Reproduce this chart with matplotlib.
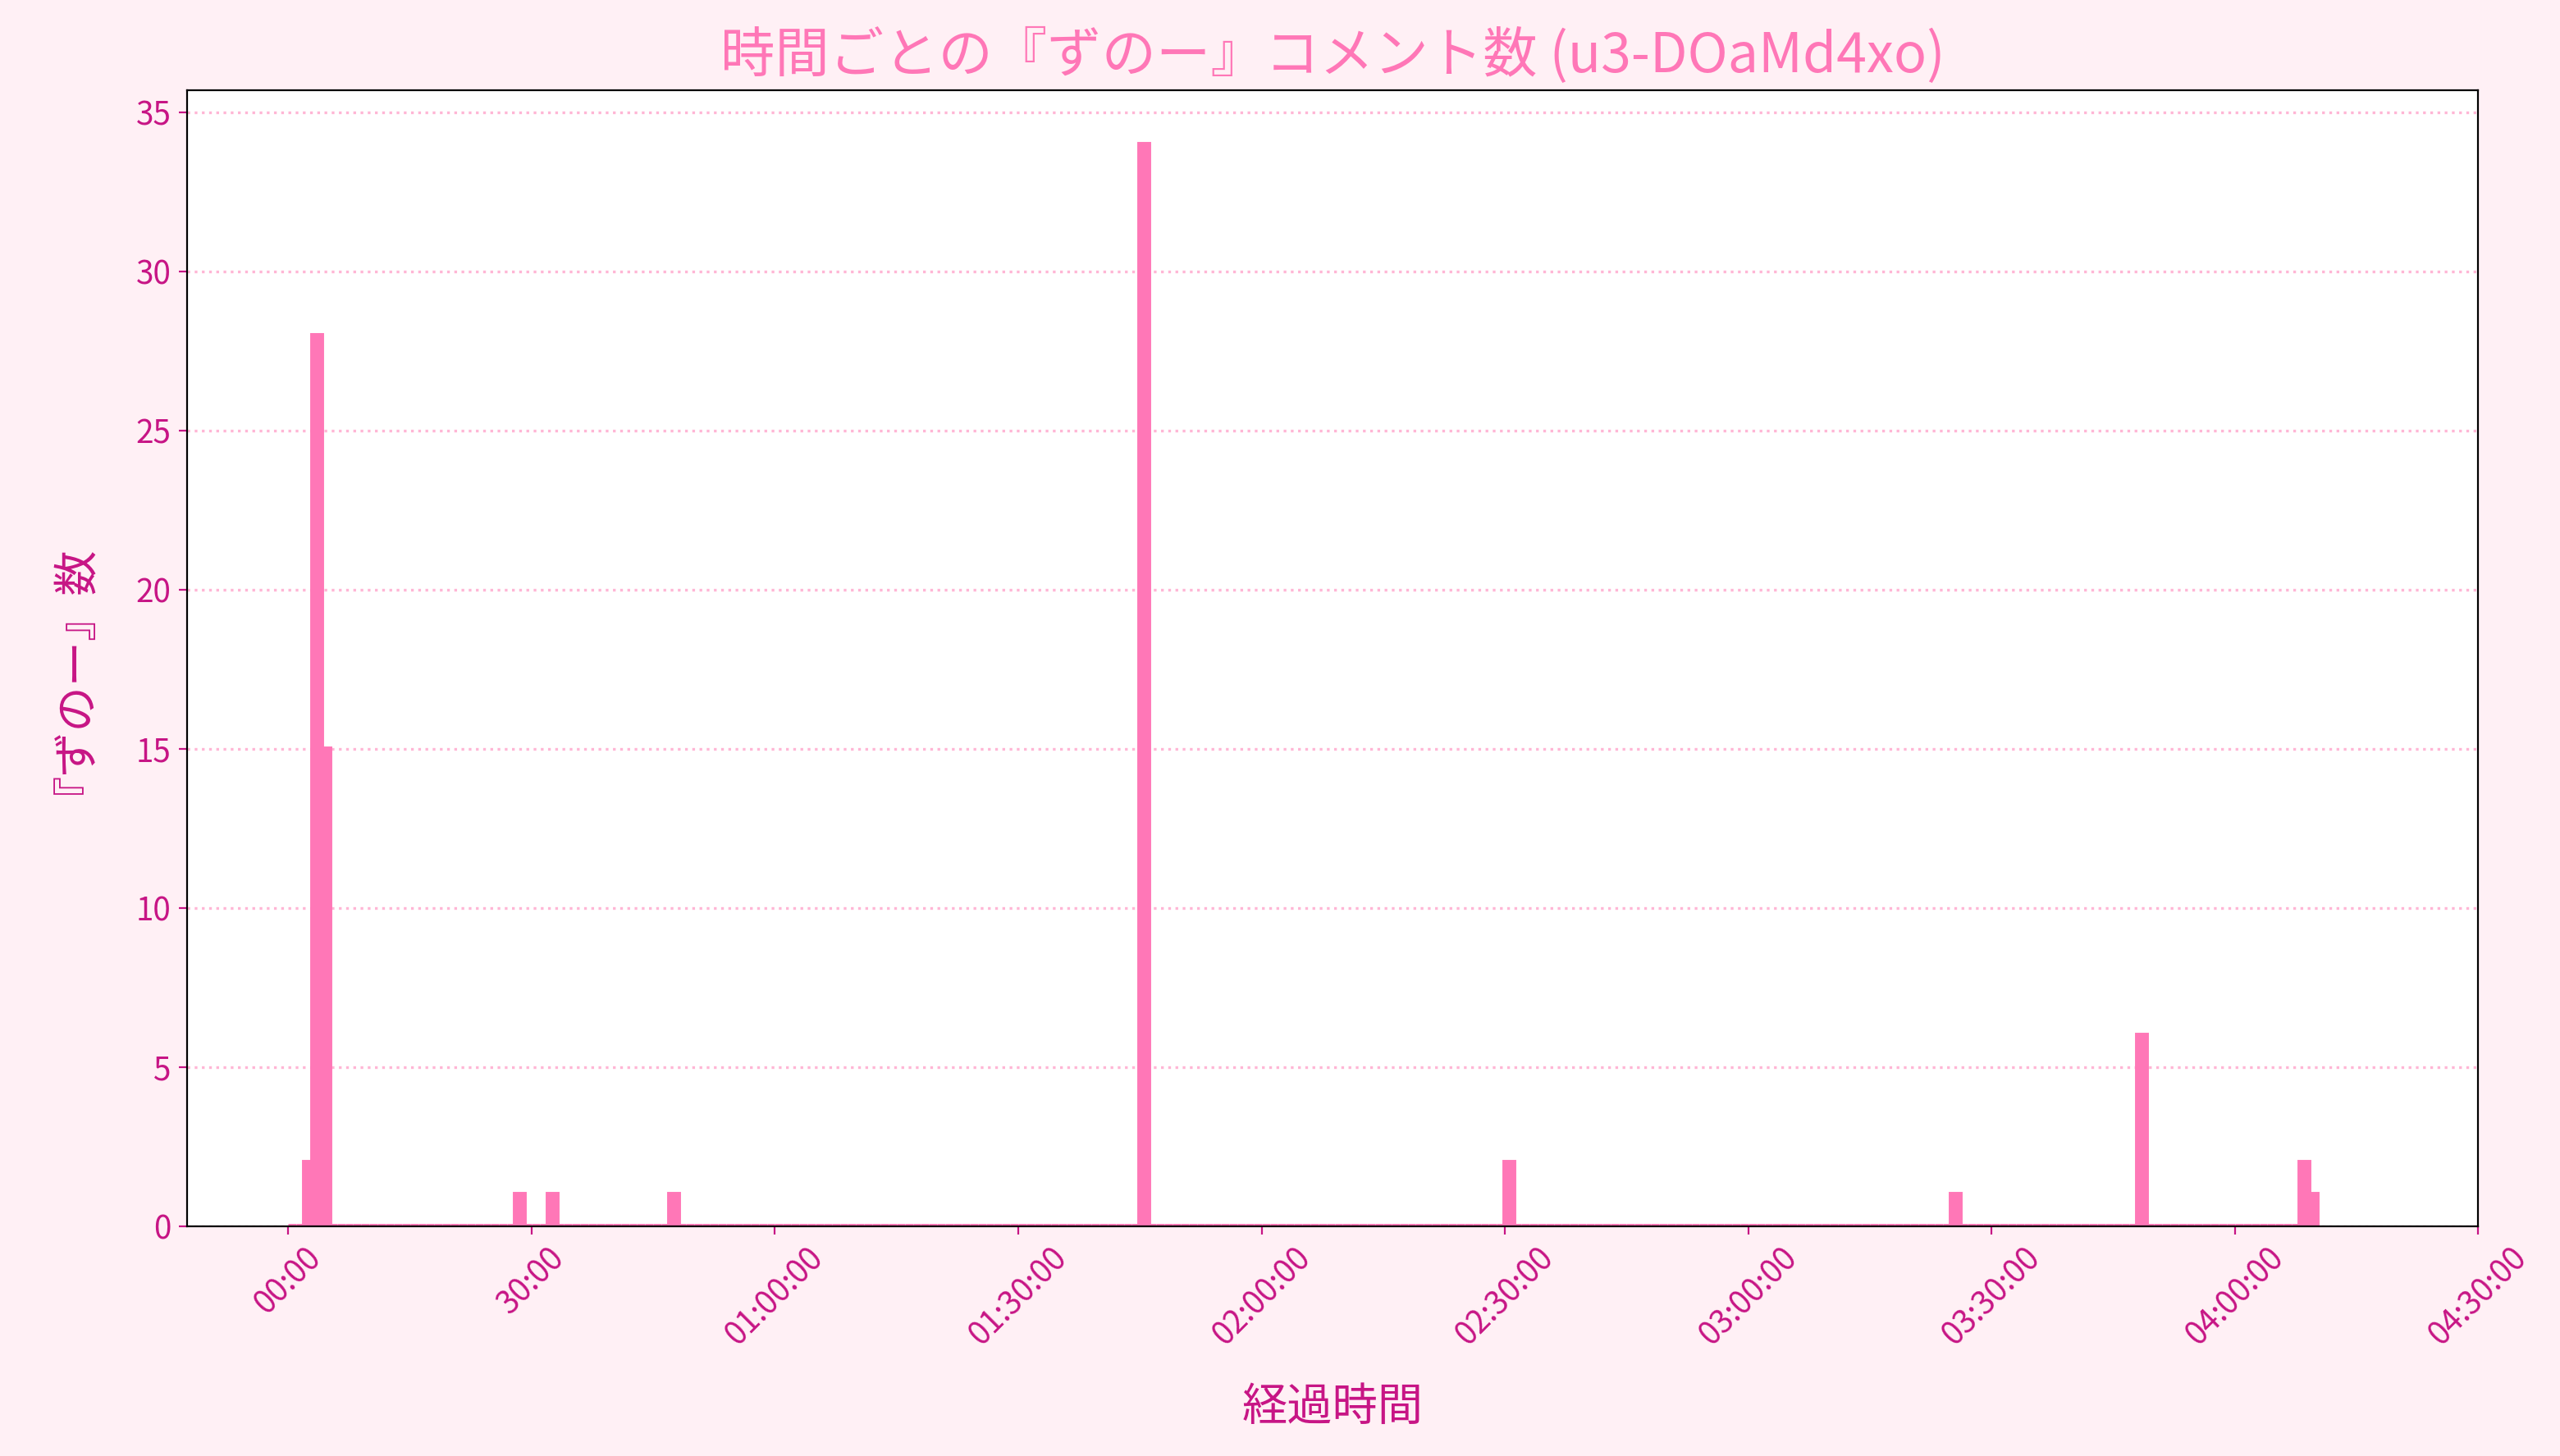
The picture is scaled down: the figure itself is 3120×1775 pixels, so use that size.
import matplotlib.pyplot as plt
import numpy as np

plt.rcParams['font.family'] = ['Noto Sans CJK JP', 'DejaVu Sans']

# minute bins with comments (others are zero)
minutes = [2, 3, 4, 28, 32, 47, 105, 150, 205, 228, 248, 249]
counts = [2, 28, 15, 1, 1, 1, 34, 2, 1, 6, 2, 1]
last_minute = 249

x = np.arange(0, last_minute + 1)
y = np.zeros_like(x, dtype=float)
for m, c in zip(minutes, counts):
    y[m] = c

tick_min = [0, 30, 60, 90, 120, 150, 180, 210, 240, 270]
tick_labels = ['00:00', '30:00', '01:00:00', '01:30:00', '02:00:00',
               '02:30:00', '03:00:00', '03:30:00', '04:00:00', '04:30:00']

bg = '#fff0f5'
pink = '#ff77b7'
dark = '#c71585'

fig, ax = plt.subplots(figsize=(15.68, 8.92), dpi=199)
fig.patch.set_facecolor(bg)
ax.set_facecolor('white')
ax.bar(x, y, width=1.0, align='edge', color=pink, edgecolor=pink, linewidth=2.5)
ax.set_xlim(-12.5, 270)
ax.set_ylim(0, 35.7)
ax.set_xticks(tick_min)
ax.set_xticklabels(tick_labels, rotation=45, color=dark, fontsize=14)
ax.tick_params(axis='y', colors=dark, labelsize=14)
ax.tick_params(axis='x', colors=dark)
ax.grid(axis='y', linestyle=':', color='#ffb6d5', linewidth=1.2)
ax.set_axisbelow(True)
ax.set_title('時間ごとの『ずのー』コメント数 (u3-DOaMd4xo)', color=pink, fontsize=24, pad=8)
ax.set_xlabel('経過時間', color=dark, fontsize=20, labelpad=14)
ax.set_ylabel('『ずのー』数', color=dark, fontsize=20, labelpad=26)
fig.subplots_adjust(left=0.073, right=0.968, top=0.938, bottom=0.158)
fig.savefig('out.png', facecolor=bg)
